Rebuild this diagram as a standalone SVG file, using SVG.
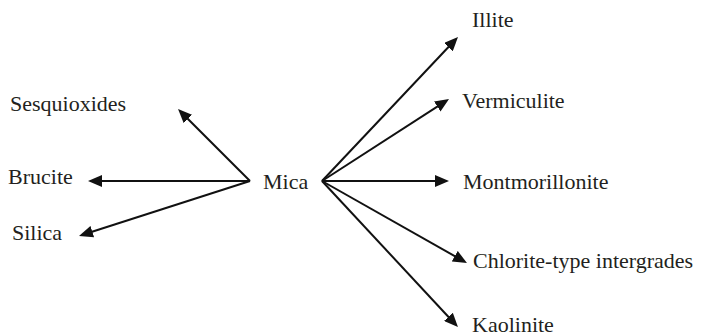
<svg xmlns="http://www.w3.org/2000/svg" width="703" height="336" viewBox="0 0 703 336">
<style>
text{font-family:'Liberation Serif','Times New Roman',serif;font-size:22px;fill:#231f20}
.c line{stroke:#111;stroke-width:2;fill:none}
</style>
<defs>
<marker id="ah" markerUnits="userSpaceOnUse" markerWidth="14" markerHeight="12" refX="6" refY="6" orient="auto" viewBox="0 0 14 12">
<path d="M0,0 L14,6 L0,12 z" fill="#111"/>
</marker>
</defs>
<rect width="703" height="336" fill="#fff"/>
<g class="c" id="connectors">
<line x1="250" y1="181" x2="183.7" y2="114.7" marker-end="url(#ah)"/>
<line x1="250" y1="181" x2="96" y2="181" marker-end="url(#ah)"/>
<line x1="250" y1="181" x2="86.6" y2="233.5" marker-end="url(#ah)"/>
<line x1="322" y1="181" x2="452.5" y2="42.8" marker-end="url(#ah)"/>
<line x1="322" y1="181" x2="442.3" y2="103.3" marker-end="url(#ah)"/>
<line x1="322" y1="181" x2="441" y2="181" marker-end="url(#ah)"/>
<line x1="322" y1="181" x2="460" y2="259.1" marker-end="url(#ah)"/>
<line x1="322" y1="181" x2="452.5" y2="321.2" marker-end="url(#ah)"/>
</g>
<g id="mica"><text x="263" y="189">Mica</text></g>
<g id="sesquioxides"><text x="10" y="111">Sesquioxides</text></g>
<g id="brucite"><text x="8" y="184">Brucite</text></g>
<g id="silica"><text x="12" y="240">Silica</text></g>
<g id="illite"><text x="472" y="27">Illite</text></g>
<g id="vermiculite"><text x="462" y="108">Vermiculite</text></g>
<g id="montmorillonite"><text x="463" y="189">Montmorillonite</text></g>
<g id="chlorite"><text x="473" y="268">Chlorite-type intergrades</text></g>
<g id="kaolinite"><text x="472" y="332">Kaolinite</text></g>
</svg>
